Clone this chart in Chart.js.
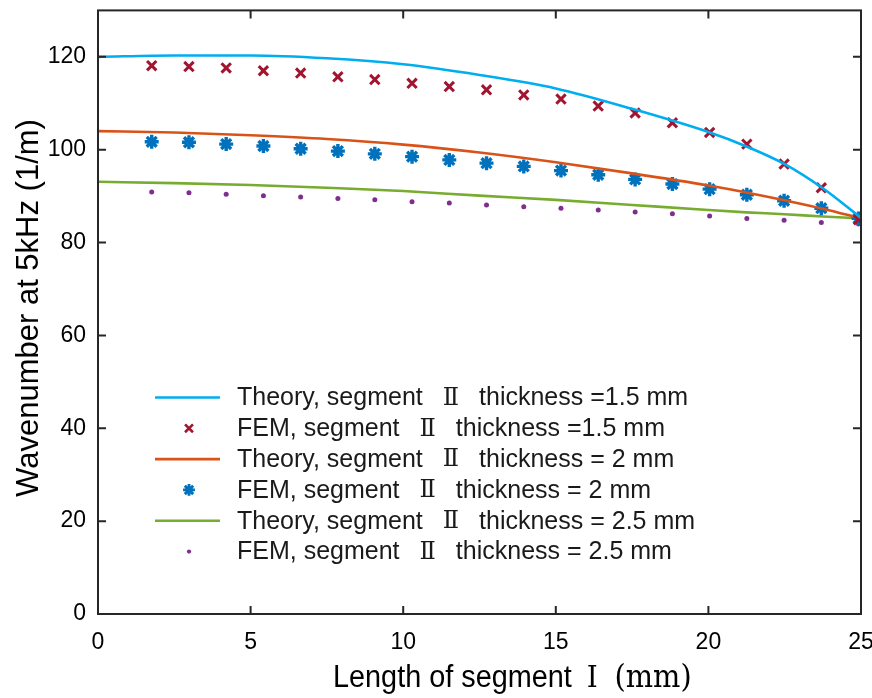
<!DOCTYPE html>
<html>
<head>
<meta charset="utf-8">
<script src="https://cdn.jsdelivr.net/npm/chart.js@4.4.1/dist/chart.umd.min.js"></script>
<style>
  html, body { margin: 0; padding: 0; background: #fff; }
  canvas { display: block; }
</style>
</head>
<body>
<canvas id="chart" width="872" height="698"></canvas>
<script>
// FEM sample positions along segment I (mm)
const femX = [1.76, 2.98, 4.2, 5.42, 6.64, 7.86, 9.07, 10.29, 11.51, 12.73, 13.95, 15.17, 16.39, 17.6, 18.82, 20.04, 21.26, 22.48, 23.7, 24.92]
const fem15 = [118.1, 117.9, 117.6, 117.0, 116.5, 115.7, 115.1, 114.3, 113.6, 112.9, 111.8, 110.9, 109.4, 107.9, 105.8, 103.7, 101.2, 96.9, 91.8, 84.9]
const fem2 = [101.7, 101.6, 101.2, 100.8, 100.2, 99.7, 99.1, 98.5, 97.8, 97.1, 96.4, 95.5, 94.6, 93.6, 92.6, 91.5, 90.3, 89.0, 87.4, 85.2]
const fem25 = [90.9, 90.7, 90.4, 90.1, 89.8, 89.5, 89.2, 88.8, 88.5, 88.1, 87.7, 87.4, 87.0, 86.6, 86.2, 85.7, 85.2, 84.8, 84.3, 84.0]

// theory curves, read at these x positions
const theoryX = [0, 2.5, 5, 7.5, 10, 12.5, 15, 17.5, 20, 21.25, 22.5, 23.75, 25]
const theory15 = [120.0, 120.3, 120.3, 119.7, 118.4, 116.1, 113.2, 108.8, 103.8, 100.7, 96.9, 91.7, 85.3]
const theory2 = [104.0, 103.7, 103.1, 102.3, 101.1, 99.4, 97.3, 94.9, 92.3, 90.8, 89.1, 87.3, 85.2]
const theory25 = [93.1, 92.8, 92.4, 91.8, 91.1, 90.1, 89.2, 88.1, 87.0, 86.5, 86.1, 85.6, 85.2]

const xTicks = [0, 5, 10, 15, 20, 25]
const yTicks = [0, 20, 40, 60, 80, 100, 120]

const labels = [
    'Theory, segment|Ⅱ|thickness =1.5 mm',
    'FEM, segment|Ⅱ|thickness =1.5 mm',
    'Theory, segment|Ⅱ|thickness = 2 mm',
    'FEM, segment|Ⅱ|thickness = 2 mm',
    'Theory, segment|Ⅱ|thickness = 2.5 mm',
    'FEM, segment|Ⅱ|thickness = 2.5 mm'
]

const SANS = '"Liberation Sans", Arial, Helvetica, sans-serif'
const SERIF = '"DejaVu Serif", "Liberation Serif", serif'
const INK = '#262626'

function pts(xs, ys) {
    return xs.map((x, i) => ({ x: x, y: ys[i] }))
}

function lineSet(label, xs, ys, color) {
    return {
        label: label, data: pts(xs, ys), showLine: true,
        borderColor: color, backgroundColor: color, borderWidth: 2.6,
        pointRadius: 0, cubicInterpolationMode: 'monotone'
    }
}

function markSet(label, xs, ys, color, style, r, w) {
    return {
        label: label, data: pts(xs, ys), showLine: false,
        borderColor: color, backgroundColor: color,
        pointStyle: style, pointRadius: r, pointBorderWidth: w
    }
}

// text split in runs (sans / serif numeral), gap = extra px after a run
function drawRuns(ctx, runs, x, y) {
    for (const r of runs) {
        ctx.font = r.font
        ctx.fillText(r.t, x, y)
        x += ctx.measureText(r.t).width + (r.gap || 0)
    }
}

function noPad(s) {
    s.paddingLeft = 0; s.paddingRight = 0
    s.paddingTop = 0; s.paddingBottom = 0
}

const framePlugin = {
    id: 'frame',
    afterDraw(chart) {
        const ctx = chart.ctx
        const a = chart.chartArea
        const xs = chart.scales.x
        const ys = chart.scales.y
        ctx.save()
        ctx.strokeStyle = INK
        ctx.lineWidth = 2
        ctx.strokeRect(a.left, a.top, a.right - a.left, a.bottom - a.top)
        ctx.beginPath()
        for (const v of xTicks) {
            const px = xs.getPixelForValue(v)
            ctx.moveTo(px, a.bottom); ctx.lineTo(px, a.bottom - 8)
            ctx.moveTo(px, a.top); ctx.lineTo(px, a.top + 8)
        }
        for (const v of yTicks) {
            const py = ys.getPixelForValue(v)
            ctx.moveTo(a.left, py); ctx.lineTo(a.left + 8, py)
            ctx.moveTo(a.right, py); ctx.lineTo(a.right - 8, py)
        }
        ctx.stroke()

        // legend
        ctx.textBaseline = 'middle'
        ctx.textAlign = 'left'
        chart.data.datasets.forEach((ds, i) => {
            const y = 397.5 + i * 30.8
            if (ds.showLine) {
                ctx.strokeStyle = ds.borderColor
                ctx.lineWidth = ds.borderWidth
                ctx.beginPath()
                ctx.moveTo(155, y); ctx.lineTo(220, y)
                ctx.stroke()
            } else {
                ctx.strokeStyle = ds.borderColor
                ctx.fillStyle = ds.backgroundColor
                ctx.lineWidth = ds.pointBorderWidth * 0.85
                Chart.helpers.drawPoint(ctx, {
                    pointStyle: ds.pointStyle, radius: ds.pointRadius * 0.85,
                    rotation: 0, borderWidth: ds.pointBorderWidth
                }, 189, y)
            }
            ctx.fillStyle = '#1a1a1a'
            const parts = labels[i].split('|')
            drawRuns(ctx, [
                { t: parts[0], font: '25px ' + SANS, gap: 20 },
                { t: parts[1], font: '24px ' + SERIF, gap: 20 },
                { t: parts[2], font: '25px ' + SANS }
            ], 237, y + 1)
        })

        // x axis title, slightly narrow like the original
        ctx.fillStyle = '#000'
        ctx.textBaseline = 'alphabetic'
        ctx.save()
        ctx.translate(333, 687)
        ctx.scale(0.93, 1)
        drawRuns(ctx, [
            { t: 'Length of segment', font: '31px ' + SANS, gap: 16 },
            { t: 'Ⅰ', font: '30px ' + SERIF, gap: 18 },
            { t: '(mm)', font: '31px ' + SERIF }
        ], 0, 0)
        ctx.restore()

        // y axis title
        ctx.translate(38, 308)
        ctx.rotate(-Math.PI / 2)
        ctx.textAlign = 'center'
        ctx.font = '31px ' + SANS
        ctx.fillText('Wavenumber at 5kHz (1/m)', 0, 0)
        ctx.restore()
    }
}

new Chart(document.getElementById('chart'), {
    type: 'scatter',
    data: {
        datasets: [
            lineSet('Theory 1.5', theoryX, theory15, '#00AEEF'),
            markSet('FEM 1.5', femX, fem15, '#A2142F', 'crossRot', 6.6, 3),
            lineSet('Theory 2', theoryX, theory2, '#D95319'),
            markSet('FEM 2', femX, fem2, '#0072BD', 'star', 7, 3.4),
            lineSet('Theory 2.5', theoryX, theory25, '#77AC30'),
            markSet('FEM 2.5', femX, fem25, '#7E2F8E', 'circle', 2.5, 0)
        ]
    },
    options: {
        responsive: false,
        animation: false,
        layout: { padding: { top: 10, right: 11, left: 0, bottom: 0 } },
        plugins: { legend: { display: false }, tooltip: { enabled: false } },
        scales: {
            x: {
                type: 'linear', min: 0, max: 25,
                grid: { display: false, drawTicks: false },
                border: { display: false },
                afterFit: (s) => { s.height = 84; noPad(s) },
                afterBuildTicks: (s) => { s.ticks = xTicks.map(v => ({ value: v })) },
                ticks: { color: '#000', padding: 15, maxRotation: 0, font: { family: SANS, size: 23 } }
            },
            y: {
                type: 'linear', min: 0, max: 130,
                grid: { display: false, drawTicks: false },
                border: { display: false },
                afterFit: (s) => { s.width = 98; noPad(s) },
                afterBuildTicks: (s) => { s.ticks = yTicks.map(v => ({ value: v })) },
                ticks: { color: '#000', padding: 12, font: { family: SANS, size: 23 } }
            }
        }
    },
    plugins: [framePlugin]
})
</script>
</body>
</html>
